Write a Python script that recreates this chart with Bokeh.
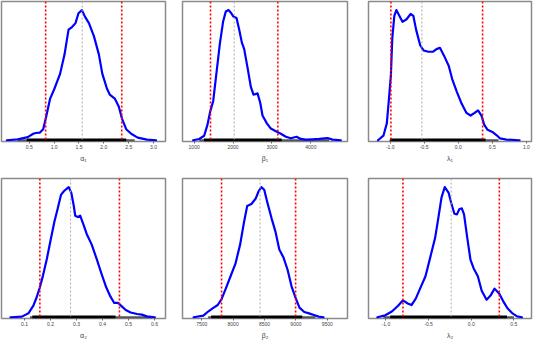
from bokeh.plotting import figure
from bokeh.layouts import gridplot
from bokeh.models import Range1d, FixedTicker, Span
from bokeh.embed import file_html
from bokeh.resources import INLINE

# ---- data (relative density heights) ----
a1_x = [0.05, 0.27, 0.47, 0.58, 0.63, 0.71, 0.78, 0.84, 0.92, 1.00, 1.12, 1.21, 1.29, 1.36, 1.43, 1.49, 1.56,
        1.62, 1.70, 1.80, 1.90, 1.97, 2.06, 2.12, 2.22, 2.30, 2.37, 2.45, 2.55, 2.68, 2.87, 3.05]
a1_y = [0, 0.007, 0.024, 0.05, 0.056, 0.058, 0.085, 0.18, 0.32, 0.39, 0.51, 0.66, 0.85, 0.87, 0.90, 0.976, 1.0,
        0.95, 0.90, 0.80, 0.66, 0.51, 0.40, 0.35, 0.32, 0.26, 0.16, 0.085, 0.05, 0.02, 0.005, 0]

b1_x = [974, 1129, 1257, 1343, 1411, 1489, 1574, 1660, 1743, 1814, 1883, 1943, 2010, 2089, 2157, 2226, 2286,
        2371, 2457, 2526, 2629, 2697, 2757, 2869, 2971, 3100, 3229, 3357, 3486, 3631, 3743, 3871, 4043, 4214,
        4429, 4557, 4771]
b1_y = [0, 0.01, 0.035, 0.12, 0.22, 0.30, 0.52, 0.74, 0.91, 0.99, 1.0, 0.98, 0.95, 0.94, 0.85, 0.75, 0.70,
        0.56, 0.41, 0.35, 0.36, 0.29, 0.19, 0.13, 0.09, 0.07, 0.05, 0.027, 0.015, 0.027, 0.01, 0.005, 0.007,
        0.01, 0.017, 0.005, 0]

l1_x = [-1.18, -1.10, -1.05, -1.02, -0.99, -0.97, -0.94, -0.91, -0.87, -0.82, -0.76, -0.70, -0.66, -0.62,
        -0.56, -0.51, -0.44, -0.37, -0.32, -0.27, -0.21, -0.14, -0.09, -0.02, 0.05, 0.12, 0.18, 0.24, 0.29,
        0.34, 0.38, 0.43, 0.50, 0.56, 0.61, 0.71, 0.90]
l1_y = [0, 0.035, 0.13, 0.31, 0.50, 0.78, 0.955, 1.0, 0.96, 0.91, 0.93, 0.97, 0.955, 0.85, 0.73, 0.69, 0.68,
        0.68, 0.70, 0.71, 0.65, 0.57, 0.47, 0.37, 0.28, 0.21, 0.19, 0.21, 0.23, 0.19, 0.12, 0.08, 0.064, 0.04,
        0.015, 0.005, 0]

a2_x = [0.046, 0.090, 0.115, 0.134, 0.146, 0.159, 0.171, 0.186, 0.200, 0.215, 0.227, 0.240, 0.252, 0.264,
        0.270, 0.280, 0.289, 0.295, 0.305, 0.314, 0.327, 0.339, 0.358, 0.377, 0.395, 0.414, 0.430, 0.445,
        0.460, 0.473, 0.489, 0.508, 0.533, 0.551, 0.570, 0.601]
a2_y = [0, 0.005, 0.03, 0.09, 0.15, 0.23, 0.32, 0.45, 0.59, 0.735, 0.83, 0.94, 0.97, 0.99, 1.0, 0.955, 0.86,
        0.78, 0.77, 0.78, 0.71, 0.64, 0.56, 0.45, 0.34, 0.23, 0.16, 0.11, 0.11, 0.086, 0.056, 0.037, 0.025,
        0.02, 0.007, 0]

b2_x = [7372, 7526, 7602, 7679, 7755, 7816, 7883, 7959, 8036, 8112, 8173, 8224, 8291, 8357, 8408, 8449, 8495,
        8546, 8612, 8673, 8735, 8801, 8867, 8929, 8990, 9056, 9133, 9209, 9286, 9362, 9439]
b2_y = [0, 0.012, 0.044, 0.07, 0.094, 0.14, 0.22, 0.315, 0.41, 0.56, 0.73, 0.855, 0.87, 0.91, 0.97, 1.0, 0.98,
        0.88, 0.76, 0.66, 0.52, 0.46, 0.365, 0.24, 0.155, 0.074, 0.04, 0.03, 0.017, 0.005, 0]

l2_x = [-1.10, -1.008, -0.93, -0.857, -0.80, -0.744, -0.70, -0.65, -0.593, -0.536, -0.48, -0.423, -0.386,
        -0.348, -0.31, -0.264, -0.235, -0.197, -0.167, -0.14, -0.11, -0.084, -0.046, -0.008, 0.029, 0.078,
        0.123, 0.18, 0.23, 0.274, 0.33, 0.38, 0.425, 0.48, 0.538, 0.594]
l2_y = [0, 0.015, 0.044, 0.089, 0.13, 0.106, 0.094, 0.143, 0.23, 0.315, 0.46, 0.61, 0.76, 0.92, 1.0, 0.955,
        0.88, 0.795, 0.79, 0.83, 0.837, 0.79, 0.61, 0.44, 0.375, 0.315, 0.204, 0.135, 0.17, 0.22, 0.18, 0.118,
        0.069, 0.032, 0.007, 0]

medians = [1.565, 2029, -0.535, 0.277, 8429, -0.235]
lower = [0.83, 1420, -0.99, 0.159, 7816, -0.80]
upper = [2.36, 3151, 0.357, 0.465, 8995, 0.33]

rug_full = [(0.27, 2.62), (1130, 4470), (-1.01, 0.59), (0.121, 0.589), (7602, 9311), (-1.03, 0.50)]
rug_dense = [(0.45, 2.45), (1250, 3250), (-1.0, 0.40), (0.13, 0.45), (7650, 9100), (-0.95, 0.42)]

a1_ticks = [0.5, 1.0, 1.5, 2.0, 2.5, 3.0]
a1_labels = ["0.5", "1.0", "1.5", "2.0", "2.5", "3.0"]
b1_ticks = [1000, 2000, 3000, 4000]
b1_labels = ["1000", "2000", "3000", "4000"]
l1_ticks = [-1.0, -0.5, 0.0, 0.5, 1.0]
l1_labels = ["-1.0", "-0.5", "0.0", "0.5", "1.0"]
a2_ticks = [0.1, 0.2, 0.3, 0.4, 0.5, 0.6]
a2_labels = ["0.1", "0.2", "0.3", "0.4", "0.5", "0.6"]
b2_ticks = [7500, 8000, 8500, 9000, 9500]
b2_labels = ["7500", "8000", "8500", "9000", "9500"]
l2_ticks = [-1.0, -0.5, 0.0, 0.5]
l2_labels = ["-1.0", "-0.5", "0.0", "0.5"]

axis_titles = ["α₁", "β₁", "λ₁", "α₂", "β₂", "λ₂"]

# ---- layout / styling ----
xs = [a1_x, b1_x, l1_x, a2_x, b2_x, l2_x]
ys = [a1_y, b1_y, l1_y, a2_y, b2_y, l2_y]
ticks = [a1_ticks, b1_ticks, l1_ticks, a2_ticks, b2_ticks, l2_ticks]
tlabels = [a1_labels, b1_labels, l1_labels, a2_labels, b2_labels, l2_labels]
xlims = [(-0.058, 3.24), (700, 4942), (-1.319, 1.075), (0.0115, 0.642), (7194, 9821), (-1.204, 0.707)]

# (width, left border, right border) per column; (height, top border, bottom border) per row
col_cfg = [(176, 1, 11), (178, 6, 7), (180, 14, 3)]
row_cfg = [(164, 1, 21), (177, 14, 21)]
Y0, Y1 = -0.0095, 1.066
FONT = "Liberation Sans"

figs = []
for i in range(6):
    r, c = divmod(i, 3)
    h, bt, bb = row_cfg[r]
    w, bl, br = col_cfg[c]
    p = figure(width=w, height=h, output_backend="svg", toolbar_location=None,
               x_range=Range1d(*xlims[i]), y_range=Range1d(Y0, Y1),
               y_axis_location=None, min_border_left=bl, min_border_right=br,
               min_border_top=bt, min_border_bottom=bb)
    p.grid.visible = False
    p.background_fill_color = "white"
    p.border_fill_color = "white"
    p.outline_line_color = "#8a8a8a"
    p.outline_line_width = 1.5

    ax = p.xaxis[0]
    ax.ticker = FixedTicker(ticks=ticks[i])
    ax.major_label_overrides = {t: l for t, l in zip(ticks[i], tlabels[i])}
    ax.axis_line_color = None
    ax.major_tick_out = 2
    ax.major_tick_in = 0
    ax.major_tick_line_color = "#666666"
    ax.minor_tick_line_color = None
    ax.major_label_text_font = FONT
    ax.major_label_text_font_size = "5px"
    ax.major_label_text_color = "#444444"
    ax.major_label_standoff = 1
    ax.axis_label = axis_titles[i]
    ax.axis_label_text_font = FONT
    ax.axis_label_text_font_size = "7px"
    ax.axis_label_text_font_style = "normal"
    ax.axis_label_text_color = "#444444"
    ax.axis_label_standoff = 3

    # rug
    rug_h = (Y1 - Y0) * 3.0 / 142.0
    p.quad(left=[rug_full[i][0]], right=[rug_full[i][1]], bottom=[Y0], top=[Y0 + rug_h * 0.8],
           fill_color="#555555", line_color=None)
    p.quad(left=[rug_dense[i][0]], right=[rug_dense[i][1]], bottom=[Y0], top=[Y0 + rug_h],
           fill_color="black", line_color=None)

    # median and interval lines
    p.add_layout(Span(location=medians[i], dimension="height", line_color="#aaaaaa",
                      line_width=1, line_dash="2 2"))
    for loc in (lower[i], upper[i]):
        p.add_layout(Span(location=loc, dimension="height", line_color="red",
                          line_width=1.6, line_dash="2 2"))

    p.line(xs[i], ys[i], line_color="blue", line_width=2.2, line_join="round", line_cap="round")
    figs.append(p)

grid = gridplot([figs[0:3], figs[3:6]], toolbar_location=None)
open("out.html", "w").write(file_html(grid, INLINE))
